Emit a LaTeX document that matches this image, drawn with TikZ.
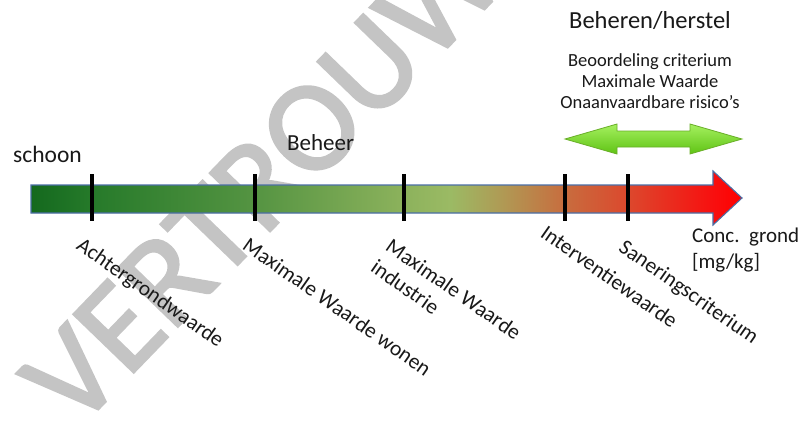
\documentclass[tikz,border=0pt]{standalone}
\usepackage{fontspec}
\setmainfont{Carlito}
\newfontfamily\wmfont[FakeBold=2]{Carlito}
\definecolor{c0}{RGB}{20,105,30}
\definecolor{c1}{RGB}{38,122,42}
\definecolor{c2}{RGB}{85,148,66}
\definecolor{c3}{RGB}{140,178,92}
\definecolor{c4}{RGB}{155,186,100}
\definecolor{c5}{RGB}{175,155,85}
\definecolor{c6}{RGB}{200,108,62}
\definecolor{c7}{RGB}{220,72,45}
\definecolor{c8}{RGB}{248,15,15}
\definecolor{c9}{RGB}{255,0,0}
\definecolor{barline}{RGB}{75,110,165}
\definecolor{txt}{RGB}{25,25,25}
\definecolor{wmgray}{RGB}{196,196,196}
\definecolor{gtop}{RGB}{165,240,95}
\definecolor{gbot}{RGB}{95,195,20}
\definecolor{gline}{RGB}{105,175,40}
\pgfdeclarehorizontalshading{bargrad}{100bp}{color(0bp)=(c0); color(25bp)=(c0); color(29.3bp)=(c1); color(40.8bp)=(c2); color(51.2bp)=(c3); color(54.5bp)=(c4); color(58bp)=(c5); color(62.6bp)=(c6); color(67bp)=(c7); color(73bp)=(c8); color(75bp)=(c9); color(100bp)=(c9)}
\begin{document}
\begin{tikzpicture}[x=1pt,y=-1pt,
  lbl/.style={inner sep=0pt,text=txt},
  rlbl/.style={lbl,anchor=north west,rotate=-35,align=left,font=\fontsize{21.5}{26}\selectfont},
  tick/.style={line width=3.3pt,black},
  wm/.style={inner sep=0pt,text=wmgray,font=\wmfont\fontsize{130}{130}\selectfont}]
\useasboundingbox (0,0) rectangle (801,421);
\clip (0,0) rectangle (801,421);
\fill[white] (0,0) rectangle (801,421);
% watermark
\node[wm,anchor=base west,rotate=46] (wm) at (76,432) {VERTROUWELIJK};
% main bar arrow
\shade[shading=bargrad,draw=barline,line width=1.1pt,line join=miter]
  (31,185) -- (713,185) -- (713,171) -- (742,198) -- (713,225) -- (713,213) -- (31,213) -- cycle;
% ticks
\foreach \x/\n in {92/t1,255/t2,404/t3,565/t4,628/t5}{
  \coordinate (\n a) at (\x,174);
  \coordinate (\n b) at (\x,221);
  \draw[tick] (\n a) -- (\n b);
}
% green double arrow
\shade[top color=gtop,bottom color=gbot,draw=gline,line width=0.8pt]
  (565,139) -- (617,124) -- (617,131) -- (690,131) -- (690,124) -- (742,139)
  -- (690,154) -- (690,147) -- (617,147) -- (617,154) -- cycle;
% texts
\node[lbl,anchor=base,font=\fontsize{24.5}{29}\selectfont] (title) at (650,28) {Beheren/herstel};
\node[lbl,anchor=base,font=\fontsize{18.5}{21}\selectfont] (crit1) at (650,66.5) {Beoordeling criterium};
\node[lbl,anchor=base,font=\fontsize{18.5}{21}\selectfont] (crit2) at (650,87.5) {Maximale Waarde};
\node[lbl,anchor=base,font=\fontsize{18.5}{21}\selectfont] (crit3) at (650,108.5) {Onaanvaardbare risico’s};
\node[lbl,anchor=base west,font=\fontsize{23.5}{28}\selectfont] (schoon) at (13,162) {schoon};
\node[lbl,anchor=base west,font=\fontsize{23}{28}\selectfont] (beheer) at (287,150) {Beheer};
\node[lbl,anchor=base west,font=\fontsize{21}{26}\selectfont] (conc) at (692,242) {Conc.\ \ grond};
\node[lbl,anchor=base west,font=\fontsize{21}{26}\selectfont] (unit) at (692,268) {[mg/kg]};
% rotated labels
\node[rlbl] (ach) at (84,236) {Achtergrondwaarde};
\node[rlbl] (mww) at (250,236) {Maximale Waarde wonen};
\node[rlbl] (mwi) at (393,237) {Maximale Waarde\\industrie};
\node[rlbl] (int) at (548,224) {Interventiewaarde};
\node[rlbl] (san) at (626,238) {Saneringscriterium};
\end{tikzpicture}
\end{document}
